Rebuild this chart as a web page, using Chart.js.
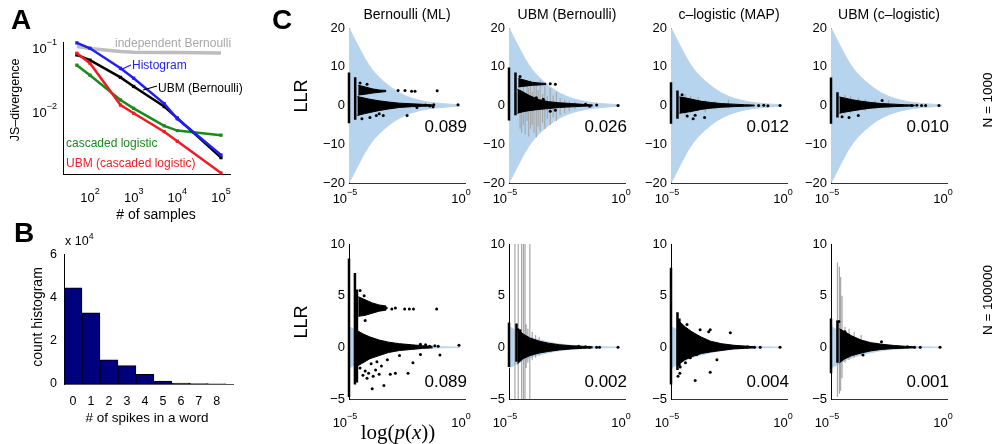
<!DOCTYPE html>
<html>
<head>
<meta charset="utf-8">
<script src="https://cdn.jsdelivr.net/npm/chart.js@4.4.1/dist/chart.umd.min.js"></script>
<style>
  body { margin: 0; width: 998px; height: 444px; background: #fff; position: relative; overflow: hidden;
         font-family: "Liberation Sans", Arial, Helvetica, sans-serif; color: #000; }
  canvas { position: absolute; }
  .t { position: absolute; white-space: nowrap; line-height: 1; }
  .t sup { font-size: 0.7em; position: relative; top: -0.15em; }
</style>
</head>
<body>
<svg width="998" height="444" style="position:absolute;left:0;top:0;z-index:2;pointer-events:none">
  <line x1="120" y1="70" x2="131" y2="65" stroke="#1a1aff" stroke-width="1.2"/>
  <line x1="143" y1="90" x2="157" y2="86" stroke="#000" stroke-width="1.2"/>
</svg>
<script>
// ---------- Panel A : JS-divergence vs # of samples ----------
const nSamples = [50, 100, 500, 1000, 5000, 10000, 100000];
const jsIndepBern = [0.110, 0.102, 0.092, 0.089, 0.088, 0.088, 0.087];
const jsHistogram = [0.125, 0.103, 0.050, 0.035, 0.014, 0.0081, 0.0022];
const jsUbmBern = [0.081, 0.067, 0.036, 0.026, 0.0126, 0.0083, 0.0020];
const jsCascLogistic = [0.056, 0.039, 0.016, 0.0118, 0.0063, 0.0053, 0.0045];
const jsUbmCascLogistic = [0.086, 0.060, 0.0133, 0.0099, 0.0051, 0.0036, 0.00115];

// ---------- Panel B : spike count histogram ----------
const spikeCounts = [0, 1, 2, 3, 4, 5, 6, 7, 8];
const wordCounts = [44500, 33000, 11200, 8500, 4500, 1300, 400, 200, 100];

// ---------- Panel C : LLR vs p(x) ----------
// shaded envelope
const envP = [1e-5, 1.5e-5, 2e-5, 3e-5, 5e-5, 1e-4, 2e-4, 5e-4, 1e-3, 3e-3, 1e-2, 3e-2, 1e-1, 3e-1, 6e-1];
const envHi1k = [20, 18, 16.5, 14.5, 12, 9.3, 7.3, 5.2, 3.9, 2.4, 1.4, 0.85, 0.5, 0.28, 0.18];
const envLo1k = [-20, -18, -16.5, -14.5, -12, -9.3, -7.3, -5.2, -3.9, -2.4, -1.4, -0.85, -0.5, -0.28, -0.18];
const envHi100k = [2.0, 1.8, 1.65, 1.45, 1.2, 0.93, 0.73, 0.52, 0.39, 0.24, 0.14, 0.085, 0.05, 0.028, 0.018];
const envLo100k = [-2.0, -1.8, -1.65, -1.45, -1.2, -0.93, -0.73, -0.52, -0.39, -0.24, -0.14, -0.085, -0.05, -0.028, -0.018];

// dense clouds of points (upper / lower edge)
const cloudP = [2.3e-5, 4e-5, 8e-5, 2e-4, 5e-4, 1.5e-3, 5e-3, 1.5e-2, 4e-2];
const bandP = [2.5e-5, 5e-5, 1e-4, 2e-4, 4e-4];

// Bernoulli (ML), N = 1000
const bern1kCols = [[1e-5, -4.6, 8.5], [1.85e-5, -3.7, 7.3]];
const bern1kHi = [2.3, 2.0, 1.6, 1.2, 0.9, 0.6, 0.45, 0.3, 0.15];
const bern1kLo = [-2.6, -2.2, -1.8, -1.3, -0.9, -0.5, -0.3, -0.2, -0.1];
const bern1kBandHi = [5.2, 4.8, 4.3, 4.0, 3.9];
const bern1kBandLo = [2.7, 2.9, 3.2, 3.4, 3.6];
const bern1kPts = [[3e-5, 5.8], [6e-5, 5.5], [1.3e-3, 3.9], [2.6e-3, 3.9], [5e-3, 3.7], [7e-3, 3.7], [6.3e-2, 3.8],
  [3.6e-5, -3.4], [8e-5, -3.1], [1.5e-4, -2.6], [2e-4, -2.1], [3e-4, -2.6], [3.2e-3, -2.6], [8.5e-3, -0.5],
  [2e-2, 0.1], [3e-2, -0.1], [4.2e-2, -0.3], [4.5e-2, 0.2], [0.5, 0.2]];
const bern1kErrs = [];

// UBM (Bernoulli), N = 1000
const ubmB1kCols = [[1e-5, -3.9, 9.8], [1.9e-5, -2.5, 8.5]];
const ubmB1kHi = [4.2, 3.5, 2.5, 1.5, 1.0, 0.7, 0.5, 0.3, 0.15];
const ubmB1kLo = [-2.0, -1.6, -1.3, -1.0, -0.8, -0.5, -0.35, -0.2, -0.1];
const ubmB1kBandHi = [7.0, 6.5, 6.0, 5.8, 5.7];
const ubmB1kBandLo = [4.8, 5.0, 5.2, 5.3, 5.4];
const ubmB1kPts = [[3e-5, 7.5], [6e-4, 5.6], [1e-3, 5.5], [1.5e-4, 2.0], [3e-4, 1.6], [6e-4, -1.5], [1e-3, -1.2],
  [2e-2, 0.3], [3e-2, -0.2], [6e-2, 0.1], [0.5, 0.0]];
const ubmB1kErrs = [[3e-5, -6, 5], [3.5e-5, -7, 4], [4.2e-5, -5, 6], [5e-5, -7.5, 3], [6e-5, -4, 5.5], [7e-5, -8, 4.5],
  [8.5e-5, -6, 6.5], [1e-4, -5, 3.5], [1.2e-4, -7, 5], [1.5e-4, -8.2, 6], [1.8e-4, -5.5, 4], [2.2e-4, -6.5, 6.5],
  [2.8e-4, -4.5, 3], [3.5e-4, -6, 5], [4.5e-4, -3.5, 2.5], [6e-4, -5, 4.5], [8e-4, -3, 2.5], [1.1e-3, -4, 3.5],
  [1.6e-3, -2.5, 2], [2.5e-3, -2, 1.5], [4e-3, -1.5, 1.2], [7e-3, -1, 1]];

// c-logistic (MAP), N = 1000
const cMap1kCols = [[1e-5, -4.7, 6.0], [1.9e-5, -3.4, 3.9]];
const cMap1kHi = [2.2, 2.0, 1.6, 1.1, 0.8, 0.5, 0.35, 0.2, 0.1];
const cMap1kLo = [-2.0, -1.8, -1.5, -1.0, -0.7, -0.45, -0.3, -0.2, -0.1];
const cMap1kPts = [[9e-5, -3.4], [2.8e-4, -3.1], [1.1e-4, -2.5], [5e-5, -2.7], [3e-5, 2.8],
  [6e-2, 0], [0.1, 0.05], [0.15, -0.05], [0.5, 0]];
const cMap1kErrs = [[4e-5, -2.5, 3], [7e-5, -2, 2.5], [1.5e-4, -1.5, 2.2], [3e-4, -1.8, 1.5], [8e-4, -1, 1.2], [3e-3, -0.8, 1.5]];

// UBM (c-logistic), N = 1000
const ubmC1kCols = [[1e-5, -4.7, 7.2], [1.9e-5, -3.1, 3.4]];
const ubmC1kHi = [2.2, 1.9, 1.5, 1.1, 0.8, 0.5, 0.35, 0.2, 0.1];
const ubmC1kLo = [-2.0, -1.7, -1.4, -1.0, -0.7, -0.45, -0.3, -0.2, -0.1];
const ubmC1kPts = [[3e-5, -2.9], [6e-5, -3.1], [1.5e-4, -2.6], [1.6e-3, 1.3],
  [3e-2, 0], [5e-2, 0.05], [8e-2, 0], [0.12, 0], [0.45, 0]];
const ubmC1kErrs = [[4e-5, -2.2, 2.8], [7e-5, -2, 2.4], [1.5e-4, -1.5, 2], [3e-4, -1.5, 1.6], [8e-4, -1, 1.3], [3e-3, -0.8, 1.4]];

// Bernoulli (ML), N = 100000
const bern100kCols = [[1e-5, -4.8, 8.6], [1.8e-5, -3.6, 7.2], [2.2e-5, -3.4, 5.6]];
const bern100kHi = [1.6, 1.3, 1.0, 0.7, 0.5, 0.35, 0.25, 0.15, 0.1];
const bern100kLo = [-1.8, -1.5, -1.1, -0.8, -0.5, -0.3, -0.2, -0.1, -0.05];
const bern100kBandHi = [4.9, 4.6, 4.3, 4.1, 4.0];
const bern100kBandLo = [3.0, 3.1, 3.3, 3.5, 3.6];
const bern100kPts = [[3e-5, 5.5], [4.5e-5, 5.0], [5e-5, 2.6], [2.5e-4, 3.9], [4e-4, 3.8], [7e-4, 3.7], [1e-3, 3.8],
  [2.5e-3, 3.7], [4e-3, 3.7], [6e-3, 3.7], [6e-2, 3.7],
  [3e-5, -2.0], [4e-5, -2.7], [5e-5, -2.3], [6e-5, -3.0], [7e-5, -2.5], [9e-5, -1.6], [1e-4, -4.0], [1.1e-4, -2.8],
  [1.4e-4, -2.2], [1.6e-4, -1.4], [2e-4, -2.6], [2.5e-4, -1.8], [3.2e-4, -3.7], [4.5e-4, -1.2], [6e-4, -2.6],
  [1e-3, -2.5], [1.5e-3, -0.8], [3.5e-3, -2.5], [5.7e-3, -1.5], [1.2e-2, -0.7], [8.3e-2, -0.75],
  [1.2e-2, 0.3], [2e-2, 0.25], [3e-2, 0.1], [5e-2, 0.15], [7e-2, 0.1], [0.55, 0.2]];
const bern100kErrs = [];

// UBM (Bernoulli), N = 100000
const ubmB100kCols = [[1e-5, -1.9, 2.4], [2.1e-5, -1.4, 2.3]];
const ubmB100kHi = [1.8, 1.3, 0.9, 0.6, 0.4, 0.25, 0.15, 0.1, 0.05];
const ubmB100kLo = [-1.6, -1.1, -0.8, -0.55, -0.4, -0.25, -0.15, -0.1, -0.05];
const ubmB100kPts = [[2.5e-5, 1.7], [3e-5, 1.6], [3.5e-5, -1.0], [1e-2, 0.1], [2e-2, 0.05], [3e-2, 0],
  [6e-2, 0], [8e-2, 0.02], [0.5, 0]];
const ubmB100kErrs = [[1.8e-5, -8, 12], [2.5e-5, -8, 12], [3.5e-5, -8, 12], [4.2e-5, -7, 12], [4.9e-5, -8, 12],
  [7.9e-5, -8, 12], [5.5e-5, -2, 2.2], [6.5e-5, -1.5, 1.8], [1e-4, -1.2, 1.5], [1.4e-4, -1.0, 1.2], [2e-4, -0.8, 1.0]];

// c-logistic (MAP), N = 100000
const cMap100kCols = [[1e-5, -3.6, 7.7], [1.9e-5, -2.2, 3.4], [2.3e-5, -1.8, 2.8]];
const cMap100kHi = [2.5, 2.0, 1.5, 1.0, 0.6, 0.35, 0.2, 0.12, 0.06];
const cMap100kLo = [-1.6, -1.2, -0.9, -0.6, -0.45, -0.3, -0.15, -0.1, -0.05];
const cMap100kPts = [[4.9e-5, 2.2], [1.8e-4, 1.7], [4.2e-4, 1.5], [4.9e-4, 1.7], [3.6e-3, 1.4],
  [2.5e-5, -1.9], [4.2e-5, -1.5], [6.8e-5, -1.0], [1.3e-4, -0.7], [9.5e-4, -1.2], [4.9e-4, -2.4], [1.1e-4, -3.2],
  [2e-5, -2.8], [2.4e-5, -2.5], [2e-2, 0.05], [4e-2, 0], [7e-2, 0], [0.5, 0]];
const cMap100kErrs = [];

// UBM (c-logistic), N = 100000
const ubmC100kCols = [[1e-5, -2.5, 2.8], [1.9e-5, -1.5, 2.6]];
const ubmC100kHi = [1.8, 1.5, 1.1, 0.7, 0.45, 0.3, 0.18, 0.1, 0.05];
const ubmC100kLo = [-1.5, -1.1, -0.8, -0.55, -0.35, -0.2, -0.12, -0.08, -0.04];
const ubmC100kPts = [[2.2e-5, 2.5], [4e-5, 1.5], [1.5e-3, 0.55], [2.4e-4, -0.75], [2e-2, 0.05], [4e-2, 0],
  [7e-2, 0], [0.5, 0]];
const ubmC100kErrs = [[1.9e-5, -4.8, 8.2], [2.3e-5, -4.5, 7.8], [2.6e-5, -4.2, 6.8], [3e-5, -3, 5],
  [4e-5, -1.5, 2], [6e-5, -1.2, 1.8], [1e-4, -1, 1.5], [2e-4, -0.8, 1.2]];

const FONT = '"Liberation Sans", Arial, Helvetica, sans-serif';

// ---------- helpers ----------
const xy = (xs, ys) => xs.map((x, i) => ({ x: x, y: ys[i] }));
const pts = (rows) => rows.map(r => ({ x: r[0], y: r[1] }));
// vertical segments [x, lo, hi] separated by gaps
const segs = (rows) => {
  const out = [];
  rows.forEach(r => { out.push({ x: r[0], y: r[1] }, { x: r[0], y: r[2] }, { x: r[0], y: null }); });
  return out;
};

function label(html, x, y, size, o) {
  o = o || {};
  const d = document.createElement('div');
  d.className = 't';
  d.innerHTML = html;
  d.style.left = x + 'px';
  d.style.top = y + 'px';
  d.style.fontSize = size + 'px';
  let tr = 'translate(-50%,-50%)';
  if (o.align === 'left') tr = 'translate(0,-50%)';
  if (o.align === 'right') tr = 'translate(-100%,-50%)';
  if (o.rot) tr += ' rotate(-90deg)';
  d.style.transform = tr;
  if (o.color) d.style.color = o.color;
  if (o.bold) d.style.fontWeight = 'bold';
  if (o.family) d.style.fontFamily = o.family;
  document.body.appendChild(d);
}

function addCanvas(left, top, w, h) {
  const cv = document.createElement('canvas');
  cv.width = w; cv.height = h;
  cv.style.left = left + 'px';
  cv.style.top = top + 'px';
  document.body.appendChild(cv);
  return cv;
}

// "10" with a superscript exponent
function drawPow(ctx, x, y, e, size, align) {
  const sup = e < 0 ? '\u2212' + (-e) : String(e);
  ctx.font = size + 'px ' + FONT;
  const wb = ctx.measureText('10').width;
  ctx.font = Math.round(size * 0.7) + 'px ' + FONT;
  const ws = ctx.measureText(sup).width;
  const w = wb + ws;
  const left = align === 'right' ? x - w : x - w / 2;
  ctx.textBaseline = 'middle';
  ctx.textAlign = 'left';
  ctx.font = size + 'px ' + FONT;
  ctx.fillText('10', left, y);
  ctx.font = Math.round(size * 0.7) + 'px ' + FONT;
  ctx.fillText(sup, left + wb, y - size * 0.5);
}

const powLabels = {
  id: 'powLabels',
  afterDraw(chart, args, o) {
    const ctx = chart.ctx;
    const a = chart.chartArea;
    ctx.save();
    ctx.fillStyle = '#000';
    (o.x || []).forEach(e => {
      const px = chart.scales.x.getPixelForValue(Math.pow(10, e)) + (o.dx || 0);
      drawPow(ctx, px, a.bottom + o.xGap, e, o.size, 'center');
    });
    (o.y || []).forEach(e => {
      const py = chart.scales.y.getPixelForValue(Math.pow(10, e));
      drawPow(ctx, a.left - o.yGap, py, e, o.size, 'right');
    });
    ctx.restore();
  }
};

const base = {
  responsive: false,
  animation: false,
  devicePixelRatio: 1,
  events: []
};
const noGrid = { display: false, drawTicks: false };

// ---------- Panel A ----------
(function () {
  const ML = 63, MT = 12, PW = 167, PH = 132, MR = 18, MB = 50;
  const cv = addCanvas(0, 42 - MT, ML + PW + MR, MT + PH + MB);
  const line = (vals, color, w, r, order) => ({
    data: xy(nSamples, vals), borderColor: color, backgroundColor: color, borderWidth: w,
    pointRadius: r, pointStyle: 'rect', pointBorderWidth: 0, showLine: true, order: order, clip: false
  });
  new Chart(cv, {
    type: 'scatter',
    data: {
      datasets: [
        line(jsUbmCascLogistic, '#f01c24', 2.5, 2.3, 0),
        line(jsHistogram, '#1f1ff5', 2.5, 2.3, 1),
        line(jsUbmBern, '#000000', 2.5, 2.3, 2),
        line(jsCascLogistic, '#1a8a1a', 2.5, 2.3, 3),
        line(jsIndepBern, '#bdbdbd', 3.5, 0, 4)
      ]
    },
    options: Object.assign({}, base, {
      layout: { padding: { left: 0, top: MT, right: MR, bottom: 0 } },
      plugins: { legend: { display: false }, tooltip: { enabled: false },
        powLabels: { x: [2, 3, 4, 5], y: [-1, -2], xGap: 24, yGap: 6, size: 13 } },
      scales: {
        x: { type: 'logarithmic', min: 24.1, max: 160700, grid: noGrid,
             border: { color: '#000' }, ticks: { display: false }, afterFit(s) { s.height = MB; } },
        y: { type: 'logarithmic', min: 0.00111, max: 0.129, grid: noGrid,
             border: { color: '#000' }, ticks: { display: false }, afterFit(s) { s.width = ML; } }
      }
    }),
    plugins: [powLabels]
  });
})();

// ---------- Panel B ----------
(function () {
  const ML = 64, MT = 12, PW = 169, PH = 132, MR = 14, MB = 50;
  const cv = addCanvas(0, 252 - MT, ML + PW + MR, MT + PH + MB);
  new Chart(cv, {
    type: 'bar',
    data: {
      datasets: [{
        data: xy(spikeCounts, wordCounts), backgroundColor: '#00007f', borderColor: '#000',
        borderWidth: 1, borderSkipped: false, barPercentage: 1, categoryPercentage: 1
      }]
    },
    options: Object.assign({}, base, {
      layout: { padding: { left: 0, top: MT, right: MR, bottom: 0 } },
      plugins: { legend: { display: false }, tooltip: { enabled: false } },
      scales: {
        x: { type: 'linear', min: -0.5, max: 8.9, offset: false, grid: noGrid,
             border: { color: '#555' },
             afterBuildTicks(s) { s.ticks = spikeCounts.map(v => ({ value: v })); },
             ticks: { font: { size: 12.5, family: FONT }, color: '#000', padding: 10, maxRotation: 0 },
             afterFit(s) { s.height = MB; } },
        y: { min: 0, max: 60000, grid: noGrid, border: { color: '#000' },
             ticks: { stepSize: 20000, font: { size: 12.5, family: FONT }, color: '#000', padding: 7,
                      callback: v => String(v / 10000) },
             afterFit(s) { s.width = ML; } }
      }
    })
  });
})();

// ---------- Panel C ----------
const cPanels = [
  { left: 349, top: 28, row: 0, title: 'Bernoulli (ML)', score: '0.089', cols: bern1kCols, hi: bern1kHi, lo: bern1kLo,
    bandHi: bern1kBandHi, bandLo: bern1kBandLo, pts: bern1kPts, errs: bern1kErrs },
  { left: 509, top: 28, row: 0, title: 'UBM (Bernoulli)', score: '0.026', cols: ubmB1kCols, hi: ubmB1kHi, lo: ubmB1kLo,
    bandHi: ubmB1kBandHi, bandLo: ubmB1kBandLo, pts: ubmB1kPts, errs: ubmB1kErrs },
  { left: 671, top: 28, row: 0, title: 'c\u2013logistic (MAP)', score: '0.012', cols: cMap1kCols, hi: cMap1kHi, lo: cMap1kLo,
    pts: cMap1kPts, errs: cMap1kErrs },
  { left: 831, top: 28, row: 0, title: 'UBM (c\u2013logistic)', score: '0.010', cols: ubmC1kCols, hi: ubmC1kHi, lo: ubmC1kLo,
    pts: ubmC1kPts, errs: ubmC1kErrs },
  { left: 349, top: 244, row: 1, score: '0.089', cols: bern100kCols, hi: bern100kHi, lo: bern100kLo,
    bandHi: bern100kBandHi, bandLo: bern100kBandLo, pts: bern100kPts, errs: bern100kErrs },
  { left: 509, top: 244, row: 1, score: '0.002', cols: ubmB100kCols, hi: ubmB100kHi, lo: ubmB100kLo,
    pts: ubmB100kPts, errs: ubmB100kErrs },
  { left: 671, top: 244, row: 1, score: '0.004', cols: cMap100kCols, hi: cMap100kHi, lo: cMap100kLo,
    pts: cMap100kPts, errs: cMap100kErrs },
  { left: 831, top: 244, row: 1, score: '0.001', cols: ubmC100kCols, hi: ubmC100kHi, lo: ubmC100kLo,
    pts: ubmC100kPts, errs: ubmC100kErrs }
];

cPanels.forEach(p => {
  const ML = 44, MT = 12, PW = 116, PH = 155, MR = 18, MB = 40;
  const big = p.row === 0;
  const cv = addCanvas(p.left - ML, p.top - MT, ML + PW + MR, MT + PH + MB);
  const ds = [];
  ds.push({ data: pts(p.pts), pointRadius: 1.5, pointBackgroundColor: '#000', pointBorderWidth: 0, order: 0, clip: false });
  ds.push({ data: xy(cloudP, p.hi), showLine: true, borderColor: '#000', borderWidth: 1, backgroundColor: '#000',
            fill: '+1', pointRadius: 0, order: 1 });
  ds.push({ data: xy(cloudP, p.lo), showLine: true, borderColor: '#000', borderWidth: 1, pointRadius: 0, order: 1 });
  if (p.bandHi) {
    ds.push({ data: xy(bandP, p.bandHi), showLine: true, borderColor: '#000', borderWidth: 1, backgroundColor: '#000',
              fill: '+1', pointRadius: 0, order: 1 });
    ds.push({ data: xy(bandP, p.bandLo), showLine: true, borderColor: '#000', borderWidth: 1, pointRadius: 0, order: 1 });
  }
  ds.push({ data: segs(p.cols), showLine: true, borderColor: '#000', borderWidth: 2.5, pointRadius: 0,
            spanGaps: false, order: 2, clip: false });
  ds.push({ data: segs(p.errs), showLine: true, borderColor: '#a8a8a8', borderWidth: 1.2, pointRadius: 0,
            spanGaps: false, order: 3 });
  ds.push({ data: xy(envP, big ? envHi1k : envHi100k), showLine: true, borderColor: '#c3d3e3', borderWidth: 1,
            backgroundColor: '#b7d4ef', fill: '+1', pointRadius: 0, cubicInterpolationMode: 'monotone', order: 4 });
  ds.push({ data: xy(envP, big ? envLo1k : envLo100k), showLine: true, borderColor: '#c3d3e3', borderWidth: 1,
            pointRadius: 0, cubicInterpolationMode: 'monotone', order: 4 });

  new Chart(cv, {
    type: 'scatter',
    data: { datasets: ds },
    options: Object.assign({}, base, {
      layout: { padding: { left: 0, top: MT, right: MR, bottom: 0 } },
      plugins: { legend: { display: false }, tooltip: { enabled: false },
        powLabels: { x: [-5, 0], xGap: big ? 16 : 24, dx: -4, size: 13 } },
      scales: {
        x: { type: 'logarithmic', min: 1e-5, max: 1, grid: noGrid, border: { color: '#333' },
             ticks: { display: false }, afterFit(s) { s.height = MB; } },
        y: { min: big ? -20 : -5, max: big ? 20 : 10, grid: noGrid, border: { color: '#000' },
             ticks: { stepSize: big ? 10 : 5, font: { size: 13, family: FONT }, color: '#000', padding: 4,
                      callback: v => String(v).replace('-', '\u2212') },
             afterFit(s) { s.width = ML; } }
      }
    }),
    plugins: [powLabels]
  });

  if (p.title) label(p.title, p.left + 58, 14, 14);
  label(p.score, p.left + 118, big ? 126 : 381, 17, { align: 'right' });
});

// ---------- text ----------
label('A', 21, 20, 28, { bold: true });
label('B', 24, 233, 28, { bold: true });
label('C', 282, 20, 28, { bold: true });

label('independent Bernoulli', 115, 43, 12, { align: 'left', color: '#a8a8a8' });
label('Histogram', 132, 65, 12, { align: 'left', color: '#1f1ff5' });
label('UBM (Bernoulli)', 158, 88, 12, { align: 'left' });
label('cascaded logistic', 66, 143, 12, { align: 'left', color: '#1a8a1a' });
label('UBM (cascaded logistic)', 66, 163, 12, { align: 'left', color: '#f01c24' });
label('JS\u2013divergence', 15, 100, 12.5, { rot: true });
label('# of samples', 156, 214, 14);

label('x 10<sup>4</sup>', 65, 240, 12.5, { align: 'left' });
label('count histogram', 37, 317, 14, { rot: true });
label('# of spikes in a word', 147, 418, 13.5);

label('LLR', 301, 96, 18, { rot: true });
label('LLR', 301, 322, 18, { rot: true });
label('log(<i>p</i>(<i>x</i>))', 398, 432, 21, { family: '"Liberation Serif", "DejaVu Serif", serif' });
label('N = 1000', 988, 100, 13.5, { rot: true });
label('N = 100000', 988, 300, 13.5, { rot: true });
</script>
</body>
</html>
